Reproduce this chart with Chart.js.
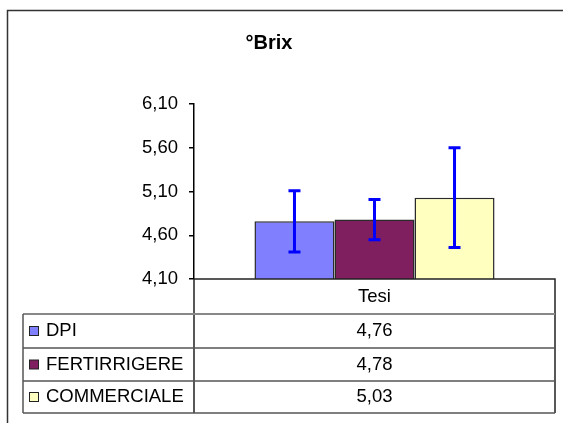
<!DOCTYPE html>
<html>
<head>
<meta charset="utf-8">
<title>°Brix</title>
<script src="https://cdn.jsdelivr.net/npm/chart.js@4/dist/chart.umd.min.js"></script>
<style>
    body { margin: 0; background: #fff; }
    #brixChart { display: block; }
</style>
</head>
<body>
<canvas id="brixChart" width="563" height="423"></canvas>
<script>
// Chart data
const chartTitle = '°Brix';
const categories = ['Tesi'];
const seriesNames = ['DPI', 'FERTIRRIGERE', 'COMMERCIALE'];
const seriesValues = [4.76, 4.78, 5.03];
const errorValues = [0.35, 0.23, 0.57];
const yTickValues = [4.10, 4.60, 5.10, 5.60, 6.10];

const seriesColors = ['#8080FF', '#7F1F5F', '#FFFFC0'];
const fontFamily = '"Liberation Sans", Arial, sans-serif';
const textSize = 18.5;

// Format numbers the Italian way (comma decimal)
function formatNumber(v) {
    return v.toFixed(2).replace('.', ',');
}

// Plugin that draws the frame, the title, error bars and the data table
const excelPlugin = {
    id: 'excelExtras',
    beforeDraw(chart) {
        const ctx = chart.ctx;
        ctx.save();
        ctx.fillStyle = '#fff';
        ctx.fillRect(0, 0, chart.width, chart.height);
        // outer frame (left and top visible)
        ctx.strokeStyle = '#333';
        ctx.lineWidth = 1.5;
        ctx.beginPath();
        ctx.moveTo(7.5, chart.height);
        ctx.lineTo(7.5, 10.5);
        ctx.lineTo(chart.width, 10.5);
        ctx.stroke();
        // title
        ctx.fillStyle = '#000';
        ctx.font = 'bold 20px ' + fontFamily;
        ctx.textAlign = 'center';
        ctx.textBaseline = 'middle';
        ctx.fillText(chartTitle, 269, 43);
        ctx.restore();
    },
    afterDatasetsDraw(chart) {
        const ctx = chart.ctx;
        const yScale = chart.scales.y;
        ctx.save();
        ctx.strokeStyle = '#0000FF';
        ctx.lineWidth = 3;
        chart.data.datasets.forEach((ds, i) => {
            const bar = chart.getDatasetMeta(i).data[0];
            const x = bar.x;
            const top = yScale.getPixelForValue(ds.data[0] + errorValues[i]);
            const bottom = yScale.getPixelForValue(ds.data[0] - errorValues[i]);
            ctx.beginPath();
            ctx.moveTo(x, top);
            ctx.lineTo(x, bottom);
            ctx.moveTo(x - 6, top);
            ctx.lineTo(x + 6, top);
            ctx.moveTo(x - 6, bottom);
            ctx.lineTo(x + 6, bottom);
            ctx.stroke();
        });
        ctx.restore();
    },
    afterDraw(chart) {
        const ctx = chart.ctx;
        const area = chart.chartArea;
        const tableLeft = 23;
        const rowLines = [area.bottom, 314, 348, 381, 413];
        const valueX = (area.left + area.right) / 2;
        ctx.save();

        // header row (category label)
        ctx.strokeStyle = '#222';
        ctx.lineWidth = 1.5;
        ctx.beginPath();
        ctx.moveTo(area.left, area.bottom);
        ctx.lineTo(area.right, area.bottom);
        ctx.lineTo(area.right, rowLines[4]);
        ctx.moveTo(area.left, area.bottom);
        ctx.lineTo(area.left, rowLines[4]);
        ctx.stroke();

        // row separators
        rowLines.slice(1).forEach((y, i) => {
            ctx.strokeStyle = i === 0 ? '#888' : '#555';
            ctx.lineWidth = i === 0 ? 2 : 1.5;
            ctx.beginPath();
            ctx.moveTo(tableLeft, y);
            ctx.lineTo(area.right, y);
            ctx.stroke();
        });
        ctx.strokeStyle = '#555';
        ctx.lineWidth = 1.5;
        ctx.beginPath();
        ctx.moveTo(tableLeft, rowLines[1]);
        ctx.lineTo(tableLeft, rowLines[4]);
        ctx.stroke();

        ctx.fillStyle = '#000';
        ctx.font = textSize + 'px ' + fontFamily;
        ctx.textBaseline = 'middle';
        ctx.textAlign = 'center';
        ctx.fillText(chart.data.labels[0], valueX, (rowLines[0] + rowLines[1]) / 2);

        chart.data.datasets.forEach((ds, i) => {
            const cy = (rowLines[i + 1] + rowLines[i + 2]) / 2;
            // legend key
            ctx.fillStyle = ds.backgroundColor;
            ctx.fillRect(29.5, cy - 4.5, 9, 9);
            ctx.strokeStyle = '#222';
            ctx.lineWidth = 1;
            ctx.strokeRect(29.5, cy - 4.5, 9, 9);
            // series name and value
            ctx.fillStyle = '#000';
            ctx.textAlign = 'left';
            ctx.fillText(ds.label, 46, cy);
            ctx.textAlign = 'center';
            ctx.fillText(formatNumber(ds.data[0]), valueX, cy);
        });
        ctx.restore();
    }
};

// Build datasets from the arrays
const datasets = seriesNames.map((name, i) => ({
    label: name,
    data: [seriesValues[i]],
    backgroundColor: seriesColors[i],
    borderColor: '#2a2a2a',
    borderWidth: 1.5,
    borderSkipped: 'bottom',
    categoryPercentage: 0.665,
    barPercentage: 1
}));

const ctx = document.getElementById('brixChart').getContext('2d');
const brixChart = new Chart(ctx, {
    type: 'bar',
    data: {
        labels: categories,
        datasets: datasets
    },
    options: {
        responsive: false,
        animation: false,
        devicePixelRatio: 1,
        layout: {
            padding: { top: 104, bottom: 144, left: 0, right: 8 }
        },
        scales: {
            x: {
                display: false
            },
            y: {
                min: 4.1,
                max: 6.1,
                afterBuildTicks: scale => {
                    scale.ticks = yTickValues.map(v => ({ value: v }));
                },
                afterFit: scale => {
                    scale.width = 194;
                },
                border: { display: true, color: '#000', width: 1.5 },
                grid: {
                    drawOnChartArea: false,
                    drawTicks: true,
                    tickLength: 5,
                    color: '#000',
                    lineWidth: 1.5
                },
                ticks: {
                    color: '#000',
                    padding: 11,
                    font: { family: fontFamily, size: textSize },
                    callback: value => formatNumber(value)
                }
            }
        },
        plugins: {
            legend: { display: false },
            title: { display: false },
            tooltip: { enabled: false }
        }
    },
    plugins: [excelPlugin]
});
</script>
</body>
</html>
